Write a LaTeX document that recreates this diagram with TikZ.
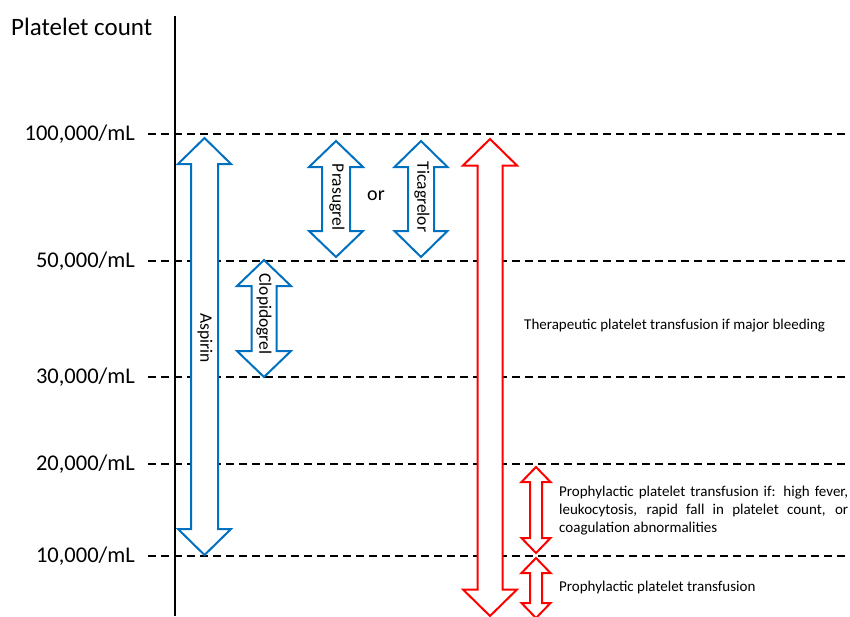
\documentclass[tikz,border=0pt]{standalone}
\usepackage{fontspec}
\setmainfont{Carlito}
\definecolor{ablue}{RGB}{0,112,192}
\definecolor{ared}{RGB}{255,0,0}
\newcommand\dblarrow[7]{%
  \draw[#1] (#2,#3) -- ({#2+#6},{#3+#7}) -- ({#2+#5},{#3+#7}) -- ({#2+#5},{#4-#7})
    -- ({#2+#6},{#4-#7}) -- (#2,#4) -- ({#2-#6},{#4-#7}) -- ({#2-#5},{#4-#7})
    -- ({#2-#5},{#3+#7}) -- ({#2-#6},{#3+#7}) -- cycle;}
\begin{document}
\begin{tikzpicture}[x=1pt,y=-1pt,
  ylab/.style={anchor=east, inner sep=0pt, font=\fontsize{22.5}{27}\selectfont},
  gridline/.style={dash pattern=on 8pt off 5pt, line width=1.6pt},
  arrowlab/.style={rotate=-90, inner sep=0pt, font=\fontsize{17.5}{20}\selectfont},
  note/.style={anchor=west, inner sep=0pt, font=\fontsize{15}{18}\selectfont},
  bluearr/.style={draw=ablue, line width=2pt, fill=white, line join=miter},
  redarr/.style={draw=ared, line width=2pt, fill=white, line join=miter}]
\useasboundingbox (0,0) rectangle (850,616);
\clip (0,0) rectangle (850,616);
% axis
\node[anchor=west, inner sep=0pt, font=\fontsize{25}{29}\selectfont] (title) at (11,27) {Platelet count};
\coordinate (axtop) at (175,16);
\coordinate (axbot) at (175,616);
% levels
\foreach \y/\t/\n in {134/{100,000}/a,261/{50,000}/b,377/{30,000}/c,464/{20,000}/d,556/{10,000}/e}{
  \node[ylab] (lab\n) at (135,\y) {\t/mL};
  \coordinate (gs\n) at (148,\y);
  \coordinate (ge\n) at (846,\y);
  \draw[gridline] (gs\n) -- (ge\n);
}
\draw[line width=2.4pt] (axtop) -- (axbot);
% blue arrows
\dblarrow{bluearr}{204.5}{138}{555}{13.5}{26.5}{26}
\dblarrow{bluearr}{336}{141}{257}{14}{27}{26}
\dblarrow{bluearr}{421}{141}{257}{13}{26.5}{26}
\dblarrow{bluearr}{264}{260}{377}{12.5}{27}{26}
% red arrows
\dblarrow{redarr}{490}{139}{616}{12.5}{27}{26.5}
\dblarrow{redarr}{536}{467}{553}{6}{14.5}{15}
\dblarrow{redarr}{536}{558}{618}{6}{14.5}{15}
% labels
\node[arrowlab] (asp) at (205,338) {Aspirin};
\node[arrowlab] (pra) at (337,197) {Prasugrel};
\node[arrowlab] (tic) at (422,197) {Ticagrelor};
\node[arrowlab] (clo) at (264,314) {Clopidogrel};
\node[inner sep=0pt, font=\fontsize{20}{24}\selectfont] (or) at (376,196) {or};
\node[note] (ther) at (524,326) {Therapeutic platelet transfusion if major bleeding};
\node[note, text width=289pt, align=justify] (pro1) at (559,511) {Prophylactic platelet transfusion if: high fever,\linebreak leukocytosis, rapid fall in platelet count, or\linebreak coagulation abnormalities};
\node[note] (pro2) at (559,587) {Prophylactic platelet transfusion};
\end{tikzpicture}
\end{document}
